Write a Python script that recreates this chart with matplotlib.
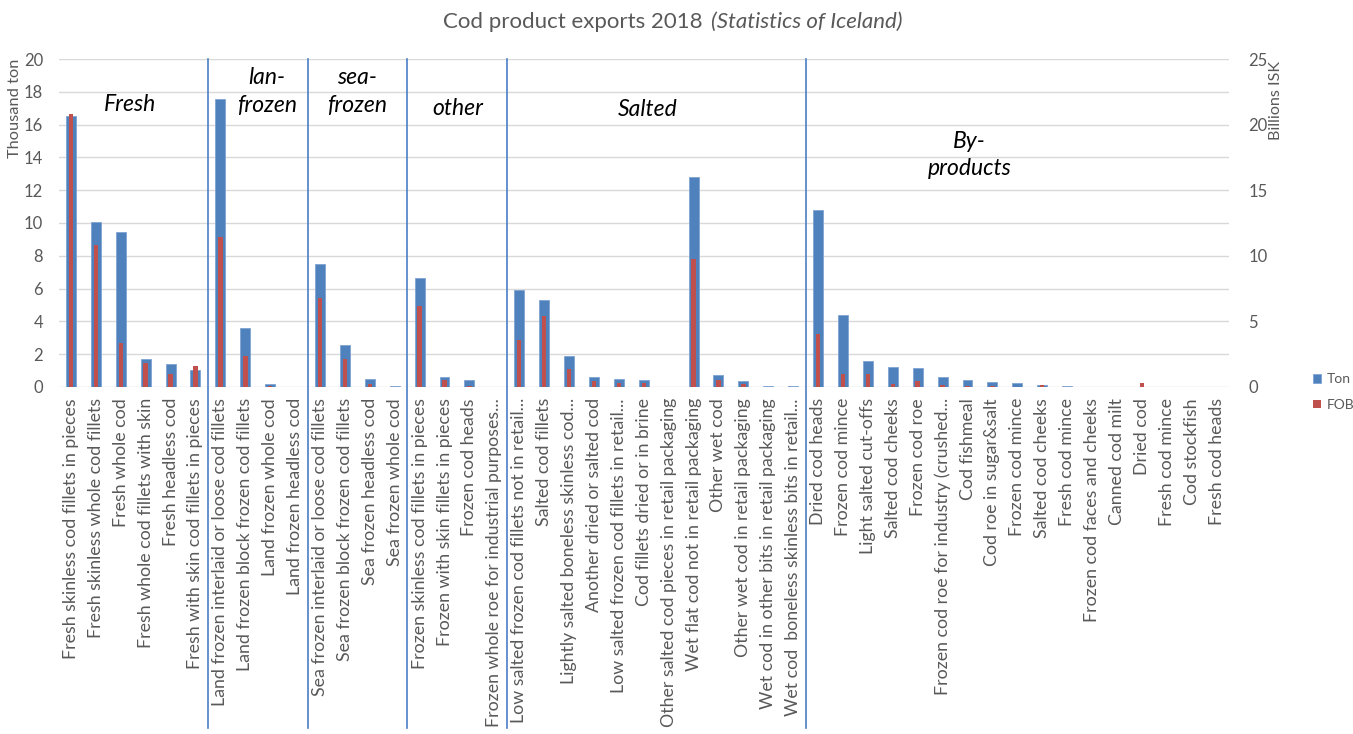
import matplotlib
matplotlib.use("Agg")
import matplotlib.pyplot as plt
import matplotlib.transforms as mtransforms
import numpy as np

plt.rcParams['font.family'] = ['Lato', 'DejaVu Sans']

categories = [
    "Fresh skinless cod fillets in pieces", "Fresh skinless whole cod fillets", "Fresh whole cod",
    "Fresh whole cod fillets with skin", "Fresh headless cod", "Fresh with skin cod fillets in pieces",
    "Land frozen interlaid or loose cod fillets", "Land frozen block frozen cod fillets",
    "Land frozen whole cod", "Land frozen headless cod",
    "Sea frozen interlaid or loose cod fillets", "Sea frozen block frozen cod fillets",
    "Sea frozen headless cod", "Sea frozen whole cod",
    "Frozen skinless cod fillets in pieces", "Frozen with skin fillets in pieces", "Frozen cod heads",
    "Frozen whole roe for industrial purposes...",
    "Low salted frozen cod fillets not in retail...", "Salted cod fillets",
    "Lightly salted boneless skinless cod...", "Another dried or salted cod",
    "Low salted frozen cod fillets in retail...", "Cod fillets dried or in brine",
    "Other salted cod pieces in retail packaging", "Wet flat cod not in retail packaging",
    "Other wet cod", "Other wet cod in retail packaging", "Wet cod in other bits in retail packaging",
    "Wet cod  boneless skinless bits in retail...",
    "Dried cod heads", "Frozen cod mince", "Light salted cut-offs", "Salted cod cheeks", "Frozen cod roe",
    "Frozen cod roe for industry (crushed...", "Cod fishmeal", "Cod roe in sugar&salt", "Frozen cod mince",
    "Salted cod cheeks", "Fresh cod mince", "Frozen cod faces and cheeks", "Canned cod milt", "Dried cod",
    "Fresh cod mince", "Cod stockfish", "Fresh cod heads",
]

# Thousand ton
ton = [16.52, 10.05, 9.46, 1.73, 1.42, 1.02,
       17.54, 3.60, 0.16, 0.0,
       7.53, 2.54, 0.47, 0.08,
       6.67, 0.61, 0.41, 0.0,
       5.90, 5.33, 1.87, 0.61, 0.51, 0.41, 0.0, 12.82, 0.71, 0.35, 0.06, 0.06,
       10.80, 4.39, 1.56, 1.21, 1.15, 0.58, 0.44, 0.29, 0.23, 0.15, 0.06, 0.0, 0.0, 0.02, 0.0, 0.0, 0.0]

# Billions ISK
fob = [20.8, 10.8, 3.36, 1.86, 1.02, 1.60,
       11.44, 2.37, 0.04, 0.0,
       6.79, 2.16, 0.25, 0.02,
       6.15, 0.50, 0.04, 0.0,
       3.56, 5.39, 1.40, 0.43, 0.33, 0.33, 0.02, 9.72, 0.51, 0.25, 0.03, 0.03,
       4.04, 1.01, 0.99, 0.21, 0.49, 0.18, 0.05, 0.05, 0.03, 0.18, 0.0, 0.0, 0.0, 0.29, 0.0, 0.0, 0.0]

group_sizes = [6, 4, 4, 4, 12, 17]
group_labels = ["Fresh", "lan-\nfrozen", "sea-\nfrozen", "other", "Salted", "By-\nproducts"]
group_label_x = [2.37, 7.87, 11.49, 15.54, 23.17, 36.07]
group_label_y = [17.2, 18.0, 18.0, 17.0, 16.9, 14.15]

BLUE = "#4F81BD"
RED = "#C0504D"
GREY = "#595959"
DIV = "#4A7EC6"

W, H = 1353, 734
fig = plt.figure(figsize=(W / 100, H / 100), dpi=100)
ax_l, ax_r, ax_b, ax_t = 58.5, 1229, 387, 59
ax = fig.add_axes([ax_l / W, 1 - ax_b / H, (ax_r - ax_l) / W, (ax_b - ax_t) / H])
ax2 = ax.twinx()

x = np.arange(len(categories))
ax.bar(x, ton, width=0.4, color=BLUE, edgecolor="#7FA3D3", linewidth=0.6, zorder=2, label="Ton")
ax2.bar(x, fob, width=0.18, color=RED, zorder=3, label="FOB")

ax.set_xlim(-0.5, len(categories) - 0.5)
ax.set_ylim(0, 20)
ax2.set_ylim(0, 25)
ax.set_yticks(np.arange(0, 21, 2))
ax2.set_yticks(np.arange(0, 26, 5))

ax.grid(axis='y', color="#D9D9D9", linewidth=1.0, zorder=0)
ax.set_axisbelow(True)
for a in (ax, ax2):
    for s in a.spines.values():
        s.set_visible(False)
ax.tick_params(axis='y', length=0, pad=11, labelsize=12, labelcolor=GREY)
ax2.tick_params(axis='y', length=0, pad=14, labelsize=12, labelcolor=GREY)
ax.set_xticks(x)
ax.set_xticklabels(categories, rotation=90, fontsize=12.8, color=GREY)
ax.tick_params(axis='x', length=0, pad=8)

# group dividers
trans = mtransforms.blended_transform_factory(ax.transData, ax.transAxes)
bottom_frac = -(728 - ax_b) / (ax_b - ax_t)
bounds = np.cumsum(group_sizes)[:-1] - 0.5
for b in bounds:
    ax.plot([b, b], [1, bottom_frac], transform=trans, color=DIV, lw=1.2, clip_on=False, zorder=5)

for gx, gy, gl in zip(group_label_x, group_label_y, group_labels):
    ax.text(gx, gy, gl, ha='center', va='center', fontsize=16.5, style='italic', color='black',
            linespacing=1.4, zorder=6)

# axis titles
fig.text(15 / W, 1 - 59 / H, "Thousand ton", rotation=90, ha='center', va='top', fontsize=11.8, color=GREY)
fig.text(1276 / W, 1 - 61 / H, "Billions ISK", rotation=90, ha='center', va='top', fontsize=11.6, color=GREY)

# title
fig.text(708 / W, 1 - 22 / H, "Cod product exports 2018 ", ha='right', va='center', fontsize=16, color=GREY)
fig.text(711 / W, 1 - 22 / H, "(Statistics of Iceland)", ha='left', va='center', fontsize=16,
         style='italic', color=GREY)

# legend
h1, l1 = ax.get_legend_handles_labels()
h2, l2 = ax2.get_legend_handles_labels()
leg = fig.legend(h1 + h2, l1 + l2, loc='center left', bbox_to_anchor=(1313 / W, 1 - 392 / H),
                 frameon=False, fontsize=10, handlelength=0.6, handleheight=0.6, handletextpad=0.4,
                 labelspacing=1.0, labelcolor=GREY, borderpad=0, borderaxespad=0)

fig.savefig("out.png", dpi=100)
